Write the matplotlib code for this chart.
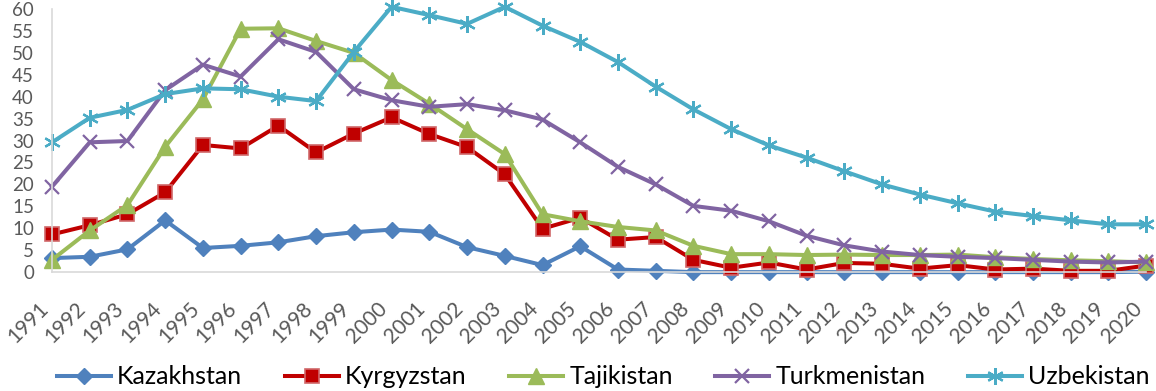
import matplotlib
matplotlib.use("Agg")
import matplotlib.pyplot as plt

years = list(range(1991, 2021))

kazakhstan = [3.2, 3.5, 5.2, 11.8, 5.5, 6.0, 6.8, 8.2, 9.1, 9.7,
              9.2, 5.7, 3.7, 1.6, 5.9, 0.6, 0.3, 0.0, 0.0, 0.0,
              0.0, 0.0, 0.0, 0.0, 0.0, 0.0, 0.0, 0.0, 0.0, 0.1]
kyrgyzstan = [8.6, 10.7, 13.2, 18.2, 29.0, 28.2, 33.4, 27.3, 31.6, 35.3,
              31.5, 28.5, 22.3, 9.9, 12.4, 7.4, 8.0, 2.8, 1.0, 2.2,
              0.6, 2.1, 1.9, 0.8, 1.6, 0.6, 0.8, 0.3, 0.3, 1.5]
tajikistan = [2.8, 9.5, 15.3, 28.6, 39.4, 55.5, 55.6, 52.7, 50.0, 43.8,
              38.4, 32.6, 26.9, 13.2, 11.6, 10.3, 9.5, 6.0, 4.1, 4.1,
              3.9, 4.0, 3.9, 3.9, 4.0, 3.4, 3.0, 2.7, 2.5, 2.2]
turkmenistan = [19.5, 29.6, 29.9, 41.5, 47.3, 44.6, 53.1, 50.2, 41.7, 39.2,
                37.7, 38.3, 36.9, 34.8, 29.6, 24.0, 20.0, 15.1, 14.0, 11.6,
                8.3, 6.1, 4.7, 3.9, 3.5, 3.2, 2.8, 2.4, 2.2, 2.4]
uzbekistan = [29.6, 35.2, 37.0, 40.6, 41.9, 41.7, 40.0, 39.0, 50.2, 60.5,
              58.6, 56.6, 60.5, 56.2, 52.5, 47.9, 42.3, 37.1, 32.6, 28.9,
              26.1, 23.0, 20.0, 17.7, 15.7, 13.8, 12.8, 11.8, 10.9, 10.9]

plt.rcParams["font.family"] = ["Lato", "DejaVu Sans"]

fig = plt.figure(figsize=(11.56, 3.91), dpi=100)
ax = fig.add_axes([0.045, 0.304, 0.9465, 0.673])

lw = 2.9
ax.plot(years, kazakhstan, color="#4F81BD", lw=lw, marker="D", ms=8.5,
        mfc="#4F81BD", mec="#4F81BD", label="Kazakhstan", clip_on=False)
ax.plot(years, kyrgyzstan, color="#C00000", lw=lw, marker="s", ms=10,
        mfc="#C00000", mec="#D0686A", mew=1.2, label="Kyrgyzstan", clip_on=False)
ax.plot(years, tajikistan, color="#9BBB59", lw=lw, marker="^", ms=11,
        mfc="#9BBB59", mec="#9BBB59", label="Tajikistan", clip_on=False)
ax.plot(years, turkmenistan, color="#8064A2", lw=lw, marker="x", ms=10,
        mew=1.6, mec="#8064A2", label="Turkmenistan", clip_on=False)
ax.plot(years, uzbekistan, color="#4BACC6", lw=lw, marker=(6, 2, 0), ms=12,
        mew=1.6, mec="#4BACC6", label="Uzbekistan", clip_on=False)

ax.set_xlim(1991, 2020)
ax.set_ylim(0, 60)
ax.set_yticks(range(0, 61, 5))
ax.set_xticks(years)
ax.set_xticklabels([str(y) for y in years], rotation=45, ha="right")

for side in ("top", "right"):
    ax.spines[side].set_visible(False)
for side in ("left", "bottom"):
    ax.spines[side].set_color("#D9D9D9")
    ax.spines[side].set_linewidth(1.2)

ax.tick_params(axis="both", length=0, colors="#595959")
ax.tick_params(axis="y", pad=13, labelsize=13.5)
ax.tick_params(axis="x", pad=19, labelsize=15)

fig.legend(loc="center", bbox_to_anchor=(0.522, 0.036), ncol=5, frameon=False,
           fontsize=18, handlelength=2.16, columnspacing=1.7, handletextpad=0.25)

fig.savefig("out.png", dpi=100)
